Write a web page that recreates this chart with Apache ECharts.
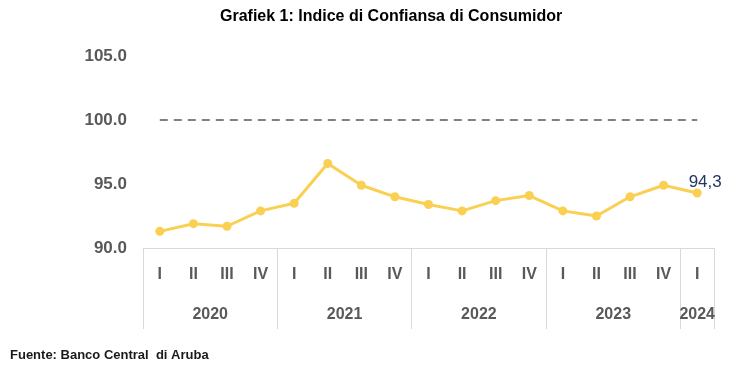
<!DOCTYPE html>
<html>
<head>
<meta charset="utf-8">
<script src="https://cdn.jsdelivr.net/npm/echarts@6/dist/echarts.min.js"></script>
<style>html,body{margin:0;padding:0;background:#fff}#c{width:749px;height:386px}</style>
</head>
<body>
<div id="c"></div>
<script>
const chartTitle = 'Grafiek 1: Indice di Confiansa di Consumidor';
const sourceText = 'Fuente: Banco Central  di Aruba';
const quarters = ['I','II','III','IV','I','II','III','IV','I','II','III','IV','I','II','III','IV','I'];
const years = ['2020','2021','2022','2023','2024'];
const quartersPerYear = [4,4,4,4,1];
const confidence = [91.3, 91.9, 91.7, 92.9, 93.5, 96.6, 94.9, 94.0, 93.4, 92.9, 93.7, 94.1, 92.9, 92.5, 94.0, 94.9, 94.3];
const referenceValue = 100;
const yTicks = [90, 95, 100, 105];

const gray = '#595959';
const font = 'Liberation Sans, Arial, sans-serif';

// year boundaries and centres on a 0..N value scale
const yearBounds = [0];
const yearCentres = [];
quartersPerYear.forEach((n) => {
  const start = yearBounds[yearBounds.length - 1];
  yearCentres.push(start + n / 2);
  yearBounds.push(start + n);
});

const lastIdx = confidence.length - 1;
const seriesData = confidence.map((v, i) => i === lastIdx ? {
  value: v,
  label: {
    show: true, position: 'top', distance: 1, offset: [8, 3],
    color: '#1F3864', fontSize: 17, fontFamily: font,
    formatter: p => String(p.value).replace('.', ',')
  }
} : v);

const chart = echarts.init(document.getElementById('c'), null, {renderer: 'canvas'});
chart.setOption({
  animation: false,
  backgroundColor: '#fff',
  title: [{
    text: chartTitle, left: 220, top: 9, padding: 0,
    textStyle: {fontSize: 16, fontWeight: 'bold', color: '#000', fontFamily: font}
  }, {
    text: sourceText, left: 10, top: 349, padding: 0,
    textStyle: {fontSize: 13, fontWeight: 'bold', color: '#1a1a1a', fontFamily: font}
  }],
  grid: {left: 143, right: 35, top: 56, bottom: 138},
  xAxis: [{
    type: 'category', data: quarters, boundaryGap: true, position: 'bottom',
    axisLine: {show: true, lineStyle: {color: '#d9d9d9', width: 1}},
    axisTick: {show: false},
    axisLabel: {color: gray, fontSize: 16, fontWeight: 'bold', fontFamily: font, margin: 19, interval: 0},
    splitLine: {show: false}
  }, {
    type: 'value', min: 0, max: quarters.length, position: 'bottom', offset: 0,
    axisLine: {show: false},
    axisTick: {show: true, customValues: yearBounds, length: 81, lineStyle: {color: '#d9d9d9', width: 1}},
    axisLabel: {
      show: true, customValues: yearCentres, margin: 59,
      color: gray, fontSize: 16, fontWeight: 'bold', fontFamily: font,
      formatter: v => { const i = yearCentres.indexOf(v); return i >= 0 ? years[i] : ''; }
    },
    splitLine: {show: false}
  }],
  yAxis: {
    type: 'value', min: yTicks[0], max: yTicks[yTicks.length - 1], interval: 5,
    axisLine: {show: false}, axisTick: {show: false}, splitLine: {show: false},
    axisLabel: {color: gray, fontSize: 17, fontWeight: 'bold', fontFamily: font, margin: 16,
      formatter: v => v.toFixed(1)}
  },
  series: [{
    type: 'line', xAxisIndex: 0, data: seriesData,
    symbol: 'circle', symbolSize: 9,
    lineStyle: {color: '#FAD052', width: 3},
    itemStyle: {color: '#FAD052'},
    markLine: {
      silent: true, symbol: ['none', 'none'], label: {show: false},
      lineStyle: {color: '#808080', type: [8, 6], width: 2},
      data: [[{coord: [0, referenceValue]}, {coord: [lastIdx, referenceValue]}]]
    }
  }]
});
</script>
</body>
</html>
